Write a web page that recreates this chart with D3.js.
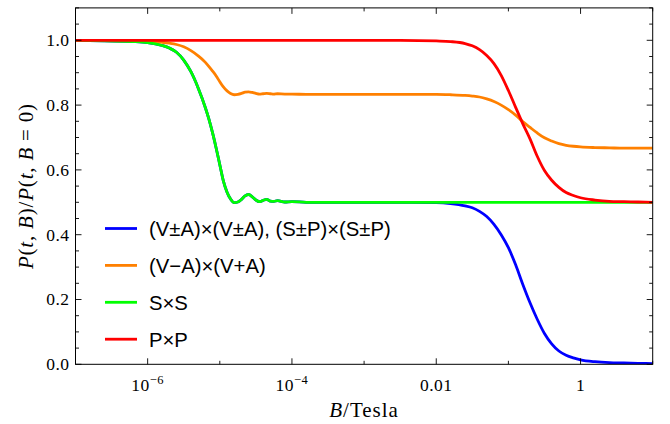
<!DOCTYPE html>
<html><head><meta charset="utf-8">
<script src="https://cdn.jsdelivr.net/npm/d3@7"></script>
<style>body{margin:0;background:#fff}svg{display:block}</style>
</head><body>
<svg id="chart" width="670" height="424"></svg>
<script>
// B field in Tesla (sample grid)
const bField = [1e-7,2.5e-7,6.3e-7,1e-6,1.58e-6,2e-6,2.51e-6,3.16e-6,3.98e-6,5.01e-6,6.31e-6,7.08e-6,7.94e-6,8.91e-6,1e-5,1.12e-5,1.26e-5,1.41e-5,1.58e-5,1.78e-5,2e-5,2.24e-5,2.51e-5,2.82e-5,3.16e-5,3.55e-5,3.98e-5,4.47e-5,5.01e-5,5.62e-5,6.31e-5,7.94e-5,1e-4,1.58e-4,3.16e-4,1e-3,3.16e-3,0.01,0.0158,0.0251,0.0316,0.0398,0.0501,0.0631,0.0794,0.1,0.126,0.158,0.2,0.251,0.316,0.398,0.501,0.631,0.794,1,1.58,2.51,3.98,6.31,10];
// (V±A)×(V±A), (S±P)×(S±P)
const vaVa = [1.000,0.998,0.996,0.993,0.984,0.976,0.963,0.939,0.903,0.853,0.792,0.756,0.714,0.667,0.616,0.566,0.531,0.510,0.499,0.501,0.509,0.520,0.524,0.517,0.507,0.502,0.506,0.509,0.504,0.503,0.505,0.501,0.502,0.500,0.500,0.500,0.500,0.499,0.496,0.489,0.483,0.472,0.456,0.432,0.400,0.360,0.307,0.247,0.189,0.139,0.095,0.063,0.041,0.028,0.020,0.014,0.008,0.005,0.004,0.003,0.002];
// (V−A)×(V+A)
const vmAvpA = [1.000,0.999,0.998,0.997,0.994,0.991,0.987,0.980,0.968,0.952,0.932,0.919,0.905,0.890,0.872,0.856,0.844,0.836,0.832,0.833,0.836,0.840,0.841,0.839,0.836,0.834,0.835,0.836,0.835,0.834,0.835,0.834,0.834,0.833,0.833,0.833,0.833,0.833,0.832,0.830,0.828,0.825,0.819,0.811,0.800,0.786,0.769,0.749,0.731,0.714,0.699,0.689,0.681,0.676,0.673,0.671,0.669,0.668,0.667,0.667,0.667];
// S×S
const sS = [1.000,0.998,0.996,0.993,0.984,0.976,0.963,0.939,0.903,0.853,0.792,0.756,0.714,0.667,0.616,0.566,0.531,0.510,0.499,0.501,0.509,0.520,0.524,0.517,0.507,0.502,0.506,0.509,0.504,0.503,0.505,0.501,0.502,0.500,0.500,0.500,0.500,0.500,0.500,0.500,0.500,0.500,0.500,0.500,0.500,0.500,0.500,0.500,0.500,0.500,0.500,0.500,0.500,0.500,0.500,0.500,0.500,0.500,0.500,0.500,0.500];
// P×P
const pP = [1.000,1.000,1.000,1.000,1.000,1.000,1.000,1.000,1.000,1.000,1.000,1.000,1.000,1.000,1.000,1.000,1.000,1.000,1.000,1.000,1.000,1.000,1.000,1.000,1.000,1.000,1.000,1.000,1.000,1.000,1.000,1.000,1.000,1.000,1.000,1.000,1.000,0.998,0.996,0.990,0.983,0.971,0.953,0.928,0.892,0.845,0.793,0.743,0.695,0.642,0.598,0.568,0.546,0.530,0.521,0.514,0.507,0.503,0.502,0.501,0.500];

const seriesNames = ["(V±A)×(V±A), (S±P)×(S±P)","(V−A)×(V+A)","S×S","P×P"];
const seriesColors = ["#0000ff","#ff8000","#00ff00","#ff0000"];
const seriesValues = [vaVa, vmAvpA, sS, pP];

const xMajorTicks = [1e-6,1e-4,1e-2,1];
const xMajorLabels = [["10","−6"],["10","−4"],["0.01",null],["1",null]];
const xMinorTicks = [1e-7,1e-5,1e-3,1e-1,10];
const yMajorTicks = [0,0.2,0.4,0.6,0.8,1.0];

const svg = d3.select("#chart");
const L=75.5, R=652.7, T=7.9, B=364.3;
const x = d3.scaleLog().domain([1e-7,10]).range([L,R]);
const y = d3.scaleLinear().domain([0,1.1]).range([B,T]);

const serif = "'Liberation Serif','DejaVu Serif',serif";
const sans = "'Liberation Sans',Arial,sans-serif";

// curves
const line = d3.line().x(d=>x(d[0])).y(d=>y(d[1])).curve(d3.curveMonotoneX);
svg.append("clipPath").attr("id","clip").append("rect").attr("x",L).attr("y",T).attr("width",R-L).attr("height",B-T);
const g = svg.append("g").attr("clip-path","url(#clip)");
seriesValues.forEach((vals,i)=>{
  g.append("path").datum(bField.map((b,j)=>[b,vals[j]]))
   .attr("d",line).attr("fill","none").attr("stroke",seriesColors[i])
   .attr("stroke-width",2.8).attr("stroke-linejoin","round");
});

// ticks (inward, all four sides)
const tk = svg.append("g").attr("stroke","#000").attr("stroke-width",0.9);
const majL=6, minL=3.5;
xMajorTicks.forEach(v=>{tk.append("line").attr("x1",x(v)).attr("x2",x(v)).attr("y1",B).attr("y2",B-majL);
  tk.append("line").attr("x1",x(v)).attr("x2",x(v)).attr("y1",T).attr("y2",T+majL);});
xMinorTicks.forEach(v=>{tk.append("line").attr("x1",x(v)).attr("x2",x(v)).attr("y1",B).attr("y2",B-minL);
  tk.append("line").attr("x1",x(v)).attr("x2",x(v)).attr("y1",T).attr("y2",T+minL);});
d3.range(0,1.1001,0.05).forEach(v=>{
  const isMaj = Math.abs(Math.round(v*5)-v*5)<1e-6;
  const len = isMaj?majL:minL;
  tk.append("line").attr("x1",L).attr("x2",L+len).attr("y1",y(v)).attr("y2",y(v));
  tk.append("line").attr("x1",R).attr("x2",R-len).attr("y1",y(v)).attr("y2",y(v));
});
// frame
svg.append("rect").attr("x",L).attr("y",T).attr("width",R-L).attr("height",B-T)
  .attr("fill","none").attr("stroke","#000").attr("stroke-width",1);

// y tick labels
yMajorTicks.forEach(v=>{
  svg.append("text").attr("x",L-6).attr("y",y(v)).attr("dy","0.34em")
   .attr("text-anchor","end").attr("font-family",serif).attr("font-size",17.5)
   .attr("letter-spacing",0.5).text(v.toFixed(1));
});
// x tick labels
xMajorTicks.forEach((v,i)=>{
  const [base,sup]=xMajorLabels[i];
  const t=svg.append("text").attr("x",x(v)).attr("y",391).attr("text-anchor","middle")
   .attr("font-family",serif).attr("font-size",17.5).attr("letter-spacing",0.5);
  t.append("tspan").text(base);
  if(sup) t.append("tspan").attr("dy",-7).attr("font-size",12.5).text(sup);
});

// axis titles
const xt = svg.append("text").attr("x",(L+R)/2).attr("y",417).attr("text-anchor","middle")
  .attr("font-family",serif).attr("font-size",21).attr("letter-spacing",1);
xt.append("tspan").attr("font-style","italic").text("B");
xt.append("tspan").text("/Tesla");

const yt = svg.append("text").attr("transform",`translate(33,${(T+B)/2}) rotate(-90)`)
  .attr("text-anchor","middle").attr("font-family",serif).attr("font-size",21).attr("letter-spacing",0.8);
[["P",1],["(",0],["t",1],[", ",0],["B",1],[")/",0],["P",1],["(",0],["t",1],[", ",0],["B",1],[" = 0)",0]]
  .forEach(([s,it])=>yt.append("tspan").attr("font-style",it?"italic":"normal").text(s));

// legend
const lg = svg.append("g");
const legY0 = 228.5, legDy = 36.9;
seriesNames.forEach((n,i)=>{
  const yy = legY0 + i*legDy;
  lg.append("line").attr("x1",105).attr("x2",137).attr("y1",yy).attr("y2",yy)
    .attr("stroke",seriesColors[i]).attr("stroke-width",2.8);
  lg.append("text").attr("x",149).attr("y",yy).attr("dy","0.36em")
    .attr("font-family",sans).attr("font-size",20.3).text(n);
});
</script>
</body></html>
